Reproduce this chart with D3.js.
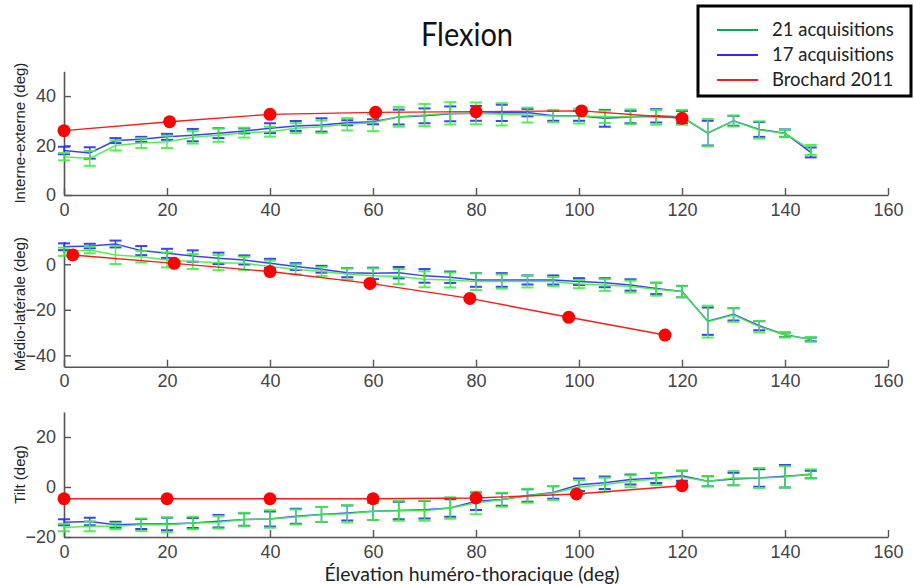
<!DOCTYPE html>
<html><head><meta charset="utf-8">
<script src="https://cdn.jsdelivr.net/npm/d3@7"></script>
<style>
body{margin:0;background:#fff;}
svg{display:block;}
</style></head>
<body>
<svg id="chart" width="914" height="586"></svg>
<script>
// ---------- DATA ----------
const xValues = [0,5,10,15,20,25,30,35,40,45,50,55,60,65,70,75,80,85,90,95,100,105,110,115,120,125,130,135,140,145];
const xTicks = [0,20,40,60,80,100,120,140,160];
const seriesNames = ["21 acquisitions","17 acquisitions","Brochard 2011"];
const panelLabels = ["Interne-externe (deg)","Médio-latérale (deg)","Tilt (deg)"];
const titleText = "Flexion";
const xLabelText = "Élevation huméro-thoracique (deg)";

// Panel 1: Interne-externe
const ie21 = [15.5,14.8,20,21,21.5,23.3,24.2,25.2,25.6,27,27.6,28.6,29.2,31.6,32.3,33,33,32.6,32.3,31.9,31.9,31.6,31.6,31.4,31.4,25.2,29.9,26.3,24.9,18.2];
const ie21Err = [1.5,3,2,2,2.5,2.5,2.7,2,2,2,2.5,2.5,3.4,4,4.5,4.5,4.4,4.5,3,2.5,3,2.5,3,3,3,5.5,2.2,3.5,1.5,2];
const ie17 = [18,17,22,22.5,23.5,24.2,25,25.9,27,27.9,28.3,29.2,29.6,31.5,32,32.8,33,33.2,33.3,32,32,31,31.5,32,31.5,25,30,26.5,25,17.2];
const ie17Err = [1.5,2.3,1,1,1.2,2.5,2,1,2,2,2.7,1,1,3,3,3,3,3.3,1.5,2,2,3.4,2.5,2.7,2.5,5,2,3,1.5,2];
const ieRefX = [0,20.5,40,60.5,80,100.5,120];
const ieRef = [26,29.6,32.6,33.4,33.7,34,31];

// Panel 2: Médio-latérale
const ml21 = [5.5,6.3,4.1,3.3,1.9,1.2,0.7,0.4,-1,-2.2,-3.2,-4.3,-5.1,-5.4,-6.6,-6.9,-7.6,-7.6,-7.6,-7.6,-8.7,-9.1,-9.8,-11,-12,-25.2,-22.3,-27.4,-31.1,-33];
const ml21Err = [1.8,1.5,4,2.5,3.3,3.3,3.3,2.9,2.6,2.2,2,2.5,3.3,3.3,3.5,3.3,3.7,3.1,2.6,2,1.8,2.6,2.6,2.8,2.4,7,3,2.5,1,1];
const ml17 = [7.7,8,8.9,6,4.8,3.6,2.6,1.9,0.4,-1,-2.2,-3.7,-4,-3.7,-5.1,-5.7,-6.9,-6.9,-6.9,-6.9,-7.6,-8.1,-9.1,-10.6,-12,-25,-22,-27,-31,-33];
const ml17Err = [1.5,1,1.5,2,2,2.5,2.5,2,2,1.5,1.5,2,2.5,2.5,3,2.5,3,3,2,2,1.5,2,2.5,2.5,2.5,6,2.7,2,1,0.8];
const mlRefX = [1.7,21.4,40,59.4,78.8,98,116.7];
const mlRef = [4.1,0.4,-3.2,-8.4,-15,-23.3,-31.1];

// Panel 3: Tilt
const ti21 = [-16.2,-15.7,-15.7,-15.1,-15.1,-14.4,-14.1,-13,-12.8,-12,-11,-10.7,-9.7,-9.5,-9.5,-8.4,-6.4,-5.1,-3.5,-2.4,0,0.9,2.3,3.2,4,2.3,3.6,3.6,4,5.3];
const ti21Err = [1.5,2,1.2,2.5,3,2.5,2.5,2.7,3.5,3,3,3.5,3.5,4,4,4.3,4.5,2.8,2.8,2.8,2.8,2.8,2.4,2.4,2.5,2,2.8,4,4.3,1.8];
const ti17 = [-14.1,-13.8,-15.1,-14.8,-14.8,-14.4,-13.7,-13,-12.8,-11.7,-11,-10.4,-9.7,-9.4,-9.1,-8.4,-5.7,-5,-3.4,-2.2,0.9,1.7,3,3.6,4.5,2.3,3.2,3.6,4.3,5];
const ti17Err = [1.2,1.5,1.2,2,2.5,2,2.5,2.5,3,3,3,3,3.5,3.5,3.5,3.5,3.5,2.5,2.5,2.5,2.5,2.5,2,2,2,2,2.5,3.5,4.5,1.5];
const tiRefX = [0,20,40,60,80,99.5,120];
const tiRef = [-4.7,-4.7,-4.7,-4.7,-4.4,-2.8,0.5];

// y domains and ticks per panel
const yDomains = [[0,50],[-45,10],[-20,30]];
const yTicks = [[0,20,40],[-40,-20,0],[-20,0,20]];

// ---------- LAYOUT ----------
const svg = d3.select("#chart");
const x = d3.scaleLinear().domain([0,160]).range([64,888]);
const panelRanges = [[195,71.3],[366.7,241.5],[537,412]];

const colGreen = "#3ef23e", colBlue = "#2b2bff", colRed = "#ff1a1a";
const legendGreen = "#00b050";

const panels = [
  {g:ie21, ge:ie21Err, b:ie17, be:ie17Err, rx:ieRefX, r:ieRef},
  {g:ml21, ge:ml21Err, b:ml17, be:ml17Err, rx:mlRefX, r:mlRef},
  {g:ti21, ge:ti21Err, b:ti17, be:ti17Err, rx:tiRefX, r:tiRef}
];

const axisColor = "#555";
const tickFont = "'Liberation Sans', Arial, sans-serif";

panels.forEach((p, i) => {
  const y = d3.scaleLinear().domain(yDomains[i]).range(panelRanges[i]);
  const g = svg.append("g");

  const xAxis = d3.axisBottom(x).tickValues(xTicks).tickSize(-7).tickPadding(8).tickSizeOuter(0);
  const yAxis = d3.axisLeft(y).tickValues(yTicks[i]).tickSize(-7).tickPadding(8).tickSizeOuter(0);
  const ax = g.append("g").attr("transform", `translate(0,${panelRanges[i][0]})`).call(xAxis);
  const ay = g.append("g").attr("transform", `translate(${x(0)},0)`).call(yAxis);
  [ax, ay].forEach(a => {
    a.attr("font-family", null).attr("font-size", null);
    a.select(".domain").attr("stroke", axisColor).attr("stroke-width", 1.6);
    a.selectAll(".tick line").attr("stroke", axisColor).attr("stroke-width", 1.4);
    a.selectAll(".tick text").attr("fill", "#444").style("font-family", tickFont).style("font-size", "18px");
  });

  const yc = (panelRanges[i][0] + panelRanges[i][1]) / 2;
  g.append("text")
    .attr("transform", `translate(25,${yc}) rotate(-90)`)
    .attr("text-anchor", "middle")
    .style("font-family", tickFont).style("font-size", "15px").attr("fill", "#222")
    .text(panelLabels[i]);

  const cap = 6;
  function drawSeries(vals, errs, color, width, opacity) {
    const sg = g.append("g").attr("opacity", opacity);
    const line = d3.line().x((d, k) => x(xValues[k])).y(d => y(d));
    sg.append("path").datum(vals).attr("d", line).attr("fill", "none")
      .attr("stroke", color).attr("stroke-width", width);
    const eb = sg.selectAll("g.eb").data(vals).enter().append("g");
    eb.append("line").attr("x1", (d, k) => x(xValues[k])).attr("x2", (d, k) => x(xValues[k]))
      .attr("y1", (d, k) => y(d - errs[k])).attr("y2", (d, k) => y(d + errs[k]))
      .attr("stroke", color).attr("stroke-width", width);
    eb.append("line").attr("x1", (d, k) => x(xValues[k]) - cap).attr("x2", (d, k) => x(xValues[k]) + cap)
      .attr("y1", (d, k) => y(d + errs[k])).attr("y2", (d, k) => y(d + errs[k]))
      .attr("stroke", color).attr("stroke-width", 2);
    eb.append("line").attr("x1", (d, k) => x(xValues[k]) - cap).attr("x2", (d, k) => x(xValues[k]) + cap)
      .attr("y1", (d, k) => y(d - errs[k])).attr("y2", (d, k) => y(d - errs[k]))
      .attr("stroke", color).attr("stroke-width", 2);
  }
  drawSeries(p.b, p.be, colBlue, 1.5, 0.9);
  drawSeries(p.g, p.ge, colGreen, 1.5, 0.9);

  const rline = d3.line().x((d, k) => x(p.rx[k])).y(d => y(d));
  g.append("path").datum(p.r).attr("d", rline).attr("fill", "none")
    .attr("stroke", colRed).attr("stroke-width", 1.4);
  g.selectAll("circle.ref").data(p.r).enter().append("circle")
    .attr("cx", (d, k) => x(p.rx[k])).attr("cy", d => y(d)).attr("r", 6.5)
    .attr("fill", "#ff0000");
});

// title
svg.append("text").attr("x", 467).attr("y", 46).attr("text-anchor", "middle")
  .attr("transform", "translate(0,-4.6) scale(1,1.1)")
  .style("font-family", "Lato, 'Open Sans', sans-serif").style("font-size", "29px").attr("fill", "#111")
  .text(titleText);

// x label
svg.append("text").attr("x", 472).attr("y", 581).attr("text-anchor", "middle")
  .style("font-family", "Lato, 'Open Sans', sans-serif").style("font-size", "19.5px").attr("fill", "#222")
  .text(xLabelText);

// legend
const leg = svg.append("g");
leg.append("rect").attr("x", 698).attr("y", 6).attr("width", 213).attr("height", 90)
  .attr("fill", "#fff").attr("stroke", "#000").attr("stroke-width", 3);
const legColors = [legendGreen, colBlue, colRed];
seriesNames.forEach((n, i) => {
  const yy = 30 + i * 25;
  leg.append("line").attr("x1", 717).attr("x2", 758).attr("y1", yy).attr("y2", yy)
    .attr("stroke", legColors[i]).attr("stroke-width", 2);
  leg.append("text").attr("x", 772).attr("y", yy + 6)
    .style("font-family", "Lato, 'Open Sans', sans-serif").style("font-size", "18.5px").attr("fill", "#222")
    .text(n);
});
</script>
</body></html>
